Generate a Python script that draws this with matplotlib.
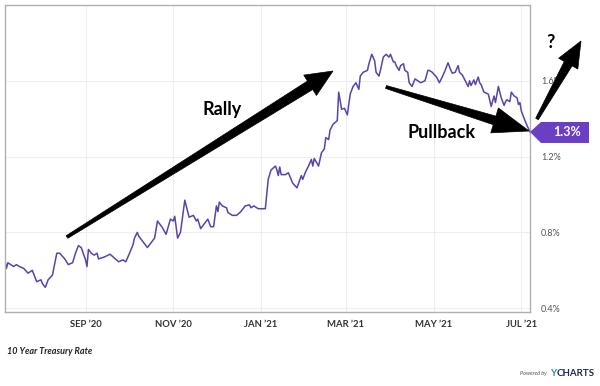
import numpy as np
import pandas as pd
import matplotlib
matplotlib.use('Agg')
import matplotlib.pyplot as plt
import matplotlib.dates as mdates
from matplotlib.patches import Polygon
from matplotlib.transforms import IdentityTransform

plt.rcParams['font.family'] = ['Lato', 'DejaVu Sans']

# 10 year treasury rate (days after start_date, percent)
start_date = '2020-07-07'
end_date = '2021-07-07'
day_offsets = [0, 1, 2, 6, 8, 10, 13, 16, 19, 22, 25, 26, 28, 30, 33, 36, 38, 41, 42, 44,
               47, 49, 51, 53, 56, 57, 58, 60, 62, 64, 65, 69, 73, 76, 79, 82, 84, 86, 89, 90,
               92, 93, 95, 99, 102, 104, 106, 109, 112, 115, 117, 118, 120, 122, 125, 128, 131, 133, 134, 136,
               139, 141, 143, 145, 147, 148, 149, 151, 154, 155, 158, 161, 164, 167, 170, 171, 173, 176, 181, 182,
               183, 185, 188, 189, 190, 191, 192, 195, 197, 200, 203, 206, 207, 209, 211, 213, 214, 215, 218, 220,
               222, 223, 225, 226, 228, 231, 232, 234, 236, 238, 240, 242, 244, 246, 247, 249, 252, 253, 255, 257,
               258, 260, 261, 263, 265, 267, 268, 270, 271, 272, 274, 275, 277, 278, 280, 281, 283, 285, 287, 289,
               292, 294, 295, 297, 300, 302, 304, 306, 308, 310, 311, 313, 315, 316, 318, 320, 322, 323, 324, 326,
               327, 329, 330, 331, 333, 336, 338, 340, 341, 343, 345, 347, 348, 349, 351, 352, 354, 356, 357, 358,
               359, 362, 365]
rate_values = [0.65, 0.61, 0.64, 0.62, 0.63, 0.62, 0.61, 0.585, 0.60, 0.54, 0.55, 0.53, 0.51, 0.55, 0.575, 0.69, 0.69, 0.665, 0.655, 0.63,
               0.64, 0.69, 0.73, 0.72, 0.655, 0.62, 0.71, 0.69, 0.68, 0.69, 0.66, 0.67, 0.685, 0.665, 0.645, 0.655, 0.645, 0.68, 0.735, 0.77,
               0.80, 0.78, 0.76, 0.72, 0.75, 0.77, 0.86, 0.83, 0.79, 0.87, 0.86, 0.885, 0.77, 0.80, 0.97, 0.88, 0.89, 0.86, 0.87, 0.82,
               0.85, 0.87, 0.83, 0.83, 0.94, 0.91, 0.96, 0.94, 0.93, 0.905, 0.89, 0.89, 0.91, 0.94, 0.945, 0.93, 0.94, 0.925, 0.925, 1.00,
               1.08, 1.13, 1.15, 1.13, 1.10, 1.145, 1.105, 1.105, 1.115, 1.06, 1.035, 1.10, 1.08, 1.12, 1.15, 1.185, 1.15, 1.19, 1.15, 1.22,
               1.24, 1.30, 1.29, 1.34, 1.37, 1.39, 1.54, 1.45, 1.455, 1.42, 1.53, 1.57, 1.59, 1.555, 1.625, 1.645, 1.655, 1.69, 1.74, 1.705,
               1.645, 1.625, 1.655, 1.725, 1.74, 1.725, 1.74, 1.70, 1.70, 1.68, 1.655, 1.68, 1.69, 1.655, 1.645, 1.59, 1.57, 1.61, 1.60, 1.59,
               1.60, 1.655, 1.655, 1.645, 1.62, 1.59, 1.62, 1.655, 1.695, 1.655, 1.64, 1.645, 1.68, 1.645, 1.63, 1.60, 1.57, 1.60, 1.575, 1.605,
               1.58, 1.62, 1.59, 1.58, 1.54, 1.53, 1.465, 1.52, 1.485, 1.57, 1.51, 1.47, 1.49, 1.50, 1.49, 1.54, 1.52, 1.51, 1.475, 1.485,
               1.44, 1.38, 1.33]

x_tick_dates = ['2020-09-01', '2020-11-01', '2021-01-01', '2021-03-01', '2021-05-01', '2021-07-01']
x_tick_labels = ['SEP \u201920', 'NOV \u201920', 'JAN \u201921', 'MAR \u201921', 'MAY \u201921', 'JUL \u201921']
y_ticks = [0.4, 0.8, 1.2, 1.6]
y_tick_labels = ['0.4%', '0.8%', '1.2%', '1.6%']

W, H = 600, 386
line_color = '#5b43a8'
flag_color = '#6a3fc4'

dates = pd.Timestamp(start_date) + pd.to_timedelta(day_offsets, unit='D')

fig = plt.figure(figsize=(W / 100, H / 100), dpi=100)
ax = fig.add_axes([5 / W, 1 - 312 / H, 525 / W, 307 / H])
ax.plot(dates, rate_values, color=line_color, lw=1.1)

ax.set_xlim(pd.Timestamp(start_date), pd.Timestamp(end_date))
ax.set_ylim(0.38, 2.0)
ax.set_xticks(pd.to_datetime(x_tick_dates))
ax.set_xticklabels(x_tick_labels, fontsize=6.8, fontweight='bold', color='#333333')
ax.yaxis.tick_right()
ax.set_yticks(y_ticks)
ax.set_yticklabels(y_tick_labels, fontsize=6.5, color='#555555')
ax.tick_params(axis='both', length=0)
ax.tick_params(axis='x', pad=6)
ax.tick_params(axis='y', pad=8)
ax.grid(True, color='#eeeeee', lw=0.8)
ax.set_axisbelow(True)
for side in ['left', 'right', 'top', 'bottom']:
    ax.spines[side].set_color('#b0b0b0')
    ax.spines[side].set_linewidth(1.0)


def px(x, y):
    # image pixel (y down) -> figure fraction
    return (x / W, 1 - y / H)


def wedge_arrow(tail, tip, w_tail, w_neck, head_w, head_len):
    tail = np.array(tail, float)
    tip = np.array(tip, float)
    u = (tip - tail) / np.linalg.norm(tip - tail)
    n = np.array([-u[1], u[0]])
    neck = tip - u * head_len
    pts = [tail + n * w_tail / 2, neck + n * w_neck / 2, neck + n * head_w / 2, tip,
           neck - n * head_w / 2, neck - n * w_neck / 2, tail - n * w_tail / 2]
    poly = Polygon([px(*p) for p in pts], closed=True, transform=fig.transFigure,
                   facecolor='black', edgecolor='black', lw=0.5, zorder=10)
    fig.add_artist(poly)


wedge_arrow((67, 237), (333, 71), 3, 10, 24, 27)
wedge_arrow((386, 87), (529, 131), 3, 9, 26, 36)
wedge_arrow((537, 119), (581, 41), 3, 9, 22, 26)

fig.text(*px(222, 110), 'Rally', fontsize=13, fontweight='bold', ha='center', va='center')
fig.text(*px(442, 133), 'Pullback', fontsize=13, fontweight='bold', ha='center', va='center')
fig.text(*px(550, 43), '?', fontsize=13, fontweight='bold', ha='center', va='center')

# last value flag
fig.canvas.draw()
renderer = fig.canvas.get_renderer()
tx, ty = ax.transData.transform((mdates.date2num(dates[-1]), rate_values[-1]))
flag = Polygon([(tx, ty), (tx + 11, ty + 10), (tx + 59, ty + 10), (tx + 59, ty - 11), (tx + 11, ty - 11)],
               closed=True, transform=IdentityTransform(), facecolor=flag_color, edgecolor='none', zorder=11)
fig.add_artist(flag)
fig.text((tx + 37) / W, ty / H, f'{rate_values[-1]:.1f}%', fontsize=9, fontweight='bold', color='white',
         ha='center', va='center', zorder=12)

fig.text(*px(7, 351), '10 Year Treasury Rate', fontsize=6.5, fontweight='bold', fontstyle='italic',
         color='#222222', ha='left', va='center')

# "Powered by YCHARTS" footer, placed right to left
t_charts = fig.text(*px(595, 373), 'CHARTS', fontsize=7, fontweight='bold', color='#1d2b4f',
                    ha='right', va='center')
x_left = t_charts.get_window_extent(renderer).x0
t_y = fig.text((x_left - 0.5) / W, 1 - 373 / H, 'Y', fontsize=7, fontweight='bold', color='#1e8bd3',
               ha='right', va='center')
x_left = t_y.get_window_extent(renderer).x0
fig.text((x_left - 3) / W, 1 - 373 / H, 'Powered by', fontsize=4, fontstyle='italic', color='#555555',
         ha='right', va='center')

fig.savefig('out.png', dpi=100)
